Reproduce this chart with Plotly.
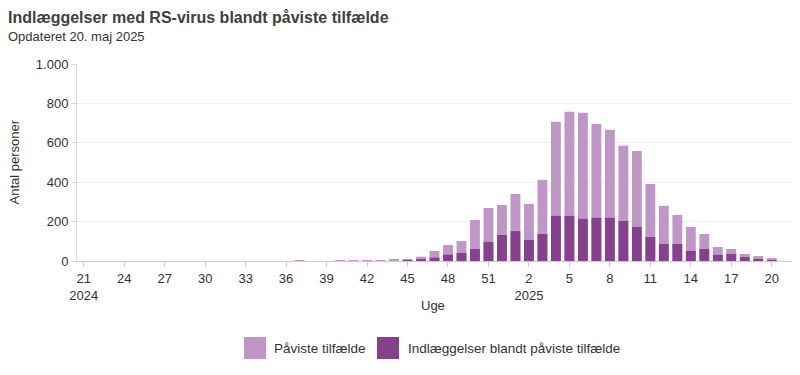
import plotly.graph_objects as go

weeks_2024 = list(range(21, 53))
weeks_2025 = list(range(1, 21))
week_labels = [f"2024-{w}" for w in weeks_2024] + [f"2025-{w}" for w in weeks_2025]

paaviste = [0] * 16 + [5, 0, 0, 4, 4, 4, 4, 9, 10, 22, 51, 81, 101, 208, 269, 284,
                       340, 290, 412, 707, 758, 752, 696, 666, 585, 559, 391, 280, 234,
                       173, 137, 71, 61, 36, 25, 15]
indlagte = [0] * 24 + [5, 6, 17, 32, 41, 61, 97, 132,
                       152, 107, 137, 229, 229, 214, 219, 219, 203, 173, 122, 86, 86,
                       51, 61, 31, 36, 20, 7, 5]

tick_vals = week_labels[::3]
tick_text = []
for lab in tick_vals:
    y, w = lab.split("-")
    if lab == "2024-21" or lab == "2025-2":
        tick_text.append(f"{w}<br>{y}")
    else:
        tick_text.append(w)

LIGHT = "#bf97c6"
DARK = "#86418d"
TXT = "#333333"
FONT = "Liberation Sans, Arial, sans-serif"

fig = go.Figure()
fig.add_trace(go.Bar(x=week_labels, y=paaviste, name="Påviste tilfælde",
                     marker=dict(color=LIGHT, line=dict(width=0)), width=0.73))
fig.add_trace(go.Bar(x=week_labels, y=indlagte, name="Indlæggelser blandt påviste tilfælde",
                     marker=dict(color=DARK, line=dict(width=0)), width=0.73))

L, R, T, B = 77, 8, 64, 114
PW, PH = 800 - L - R, 375 - T - B

def px(x):
    return (x - L) / PW

def py(y):
    return (375 - B - y) / PH

fig.update_layout(
    width=800, height=375,
    margin=dict(l=L, r=R, t=T, b=B),
    barmode="overlay",
    showlegend=False,
    plot_bgcolor="white", paper_bgcolor="white",
    separators=",.",
    font=dict(family=FONT, size=13, color=TXT),
    xaxis=dict(type="category", range=[-0.5, 52.5], tickmode="array",
               tickvals=tick_vals, ticktext=tick_text, showgrid=False,
               showline=True, linecolor="#cccccc", linewidth=1,
               ticks="outside", ticklen=5, tickcolor="#cccccc",
               tickfont=dict(size=13, color=TXT)),
    yaxis=dict(range=[0, 1000], tickvals=[0, 200, 400, 600, 800, 1000],
               tickformat=",d", showgrid=True, gridcolor="#efefef",
               showline=True, linecolor="#d9d9d9", linewidth=1,
               ticks="outside", ticklen=5, tickcolor="#d9d9d9",
               zeroline=False, tickfont=dict(size=13, color=TXT)),
)

annots = [
    dict(text="<b>Indlæggelser med RS-virus blandt påviste tilfælde</b>", x=px(6), y=py(17),
         xanchor="left", yanchor="middle", font=dict(size=16, color="#404040")),
    dict(text="Opdateret 20. maj 2025", x=px(6), y=py(36),
         xanchor="left", yanchor="middle", font=dict(size=13, color=TXT)),
    dict(text="Antal personer", x=px(14), y=0.5, textangle=-90,
         xanchor="center", yanchor="middle", font=dict(size=13, color=TXT)),
    dict(text="Uge", x=px(433), y=py(305),
         xanchor="center", yanchor="middle", font=dict(size=13, color=TXT)),
    dict(text="Påviste tilfælde", x=px(272), y=py(348),
         xanchor="left", yanchor="middle", font=dict(size=13.5, color=TXT)),
    dict(text="Indlæggelser blandt påviste tilfælde", x=px(406), y=py(348),
         xanchor="left", yanchor="middle", font=dict(size=13.5, color=TXT)),
]
for a in annots:
    fig.add_annotation(xref="paper", yref="paper", showarrow=False, **a)

fig.add_shape(type="rect", xref="paper", yref="paper", x0=px(244), x1=px(266),
              y0=py(359), y1=py(337), fillcolor=LIGHT, line=dict(width=0))
fig.add_shape(type="rect", xref="paper", yref="paper", x0=px(377), x1=px(399),
              y0=py(359), y1=py(337), fillcolor=DARK, line=dict(width=0))

fig.write_html("out.html", config={"displayModeBar": False},
               post_script="document.body.style.margin='0';document.body.style.overflow='hidden';")
